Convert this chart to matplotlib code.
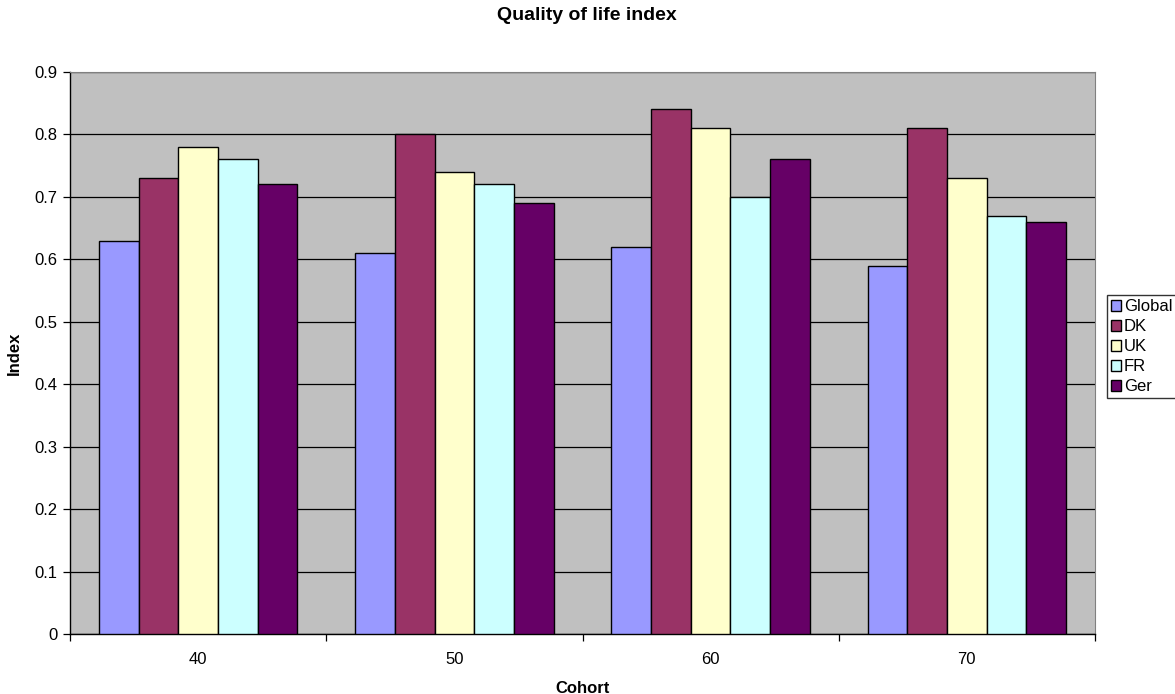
import matplotlib
matplotlib.use("Agg")
import matplotlib.pyplot as plt
import numpy as np

plt.rcParams['font.family'] = ['Liberation Sans', 'DejaVu Sans']

cohorts = ['40', '50', '60', '70']
series_names = ['Global', 'DK', 'UK', 'FR', 'Ger']
global_idx = [0.63, 0.61, 0.62, 0.59]
dk_idx = [0.73, 0.80, 0.84, 0.81]
uk_idx = [0.78, 0.74, 0.81, 0.73]
fr_idx = [0.76, 0.72, 0.70, 0.67]
ger_idx = [0.72, 0.69, 0.76, 0.66]
colors = ['#9999FF', '#993366', '#FFFFCC', '#CCFFFF', '#660066']

series = [global_idx, dk_idx, uk_idx, fr_idx, ger_idx]

fig = plt.figure(figsize=(11.75, 6.94), dpi=100)
ax = fig.add_axes([70 / 1175, 1 - 634 / 694, 1025 / 1175, 562 / 694])
ax.set_facecolor('#C0C0C0')

x = np.arange(len(cohorts))
w = 0.155
for i, (vals, c, name) in enumerate(zip(series, colors, series_names)):
    ax.bar(x + (i - 2) * w, vals, width=w, color=c, edgecolor='black',
           linewidth=1.0, label=name, zorder=3)

ax.set_xlim(-0.5, len(cohorts) - 0.5)
ax.set_ylim(0, 0.9)
ax.set_yticks(np.arange(0, 0.91, 0.1))
ax.set_yticklabels(['0'] + [f'{v:.1f}' for v in np.arange(0.1, 0.91, 0.1)])
ax.yaxis.grid(True, color='black', linewidth=0.9, zorder=1)
ax.set_axisbelow(True)

# category labels centred, tick marks between groups
ax.set_xticks(x)
ax.set_xticklabels(cohorts)
ax.set_xticks(np.arange(-0.5, len(cohorts)), minor=True)
ax.tick_params(axis='x', which='major', length=0, pad=13, labelsize=12)
ax.tick_params(axis='x', which='minor', length=5, direction='out', width=0.9)
ax.tick_params(axis='y', length=5, direction='out', width=0.9, labelsize=12, pad=4)

for s in ['top', 'right']:
    ax.spines[s].set_color('#808080')
for s in ['left', 'bottom']:
    ax.spines[s].set_color('black')
    ax.spines[s].set_linewidth(1.0)

ax.set_xlabel('Cohort', fontweight='bold', fontsize=12, labelpad=10)
ax.set_ylabel('Index', fontweight='bold', fontsize=12, labelpad=9)
fig.suptitle('Quality of life index', fontweight='bold', fontsize=14,
             x=587 / 1175, y=1 - 15 / 694, va='center')

leg = fig.legend(loc='upper left', bbox_to_anchor=(1107 / 1175, 1 - 295 / 694),
                 frameon=True, fancybox=False, edgecolor='black', fontsize=12,
                 handlelength=0.6, handleheight=0.6, handletextpad=0.15,
                 borderpad=0.25, labelspacing=0.3, borderaxespad=0)
leg.get_frame().set_linewidth(1.0)

fig.savefig('out.png', dpi=100)
